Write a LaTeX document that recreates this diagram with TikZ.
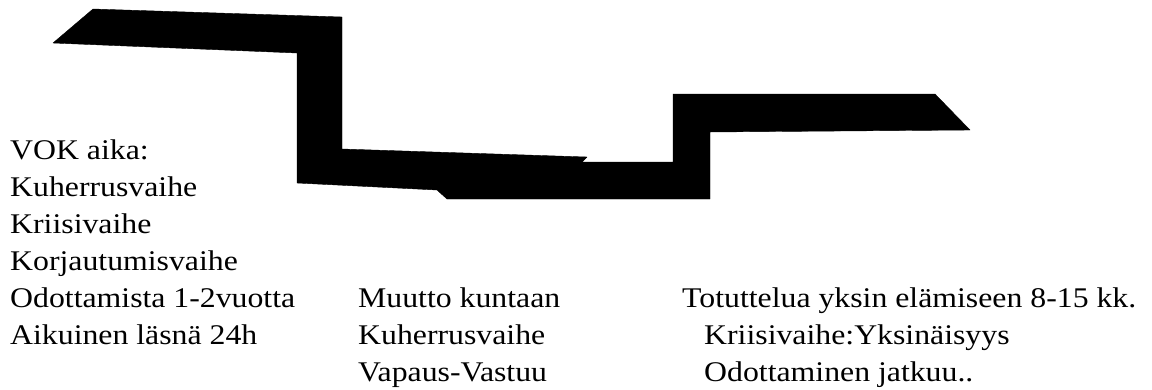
\documentclass[tikz,border=0pt]{standalone}
\usepackage{fontspec}
\setmainfont{Liberation Serif}[FakeStretch=1.115]
\begin{document}
\begin{tikzpicture}[x=1pt,y=-1pt,
  lbl/.style={anchor=base west,inner sep=0pt,font=\fontsize{28.5}{34}\selectfont},
  band/.style={fill=black,draw=black,line width=0.4pt,line join=round}]
\useasboundingbox (0,0) rectangle (1152,389);
% stepped black band
\fill[band] (93,9) -- (342,17) -- (342,149) -- (587,157) -- (582,162) -- (673,162)
  -- (673,94) -- (935,94) -- (970,130) -- (710,132) -- (710,199) -- (447,199)
  -- (437,190) -- (297,183) -- (297,53) -- (53,43) -- cycle;
% left column
\node[lbl] (l1) at (10,159.5) {VOK aika:};
\node[lbl] (l2) at (10,196.5) {Kuherrusvaihe};
\node[lbl] (l3) at (10,233.5) {Kriisivaihe};
\node[lbl] (l4) at (10,270.5) {Korjautumisvaihe};
\node[lbl] (l5) at (10,307.4) {Odottamista 1-2vuotta};
\node[lbl] (l6) at (10,344.3) {Aikuinen läsnä 24h};
% middle column
\node[lbl] (m1) at (358,307.4) {Muutto kuntaan};
\node[lbl] (m2) at (358,344.3) {Kuherrusvaihe};
\node[lbl] (m3) at (358,381.2) {Vapaus-Vastuu};
% right column
\node[lbl] (r1) at (682,307.4) {Totuttelua yksin elämiseen 8-15 kk.};
\node[lbl] (r2) at (704,344.3) {Kriisivaihe:Yksinäisyys};
\node[lbl] (r3) at (704,381.2) {Odottaminen jatkuu..};
\end{tikzpicture}
\end{document}
